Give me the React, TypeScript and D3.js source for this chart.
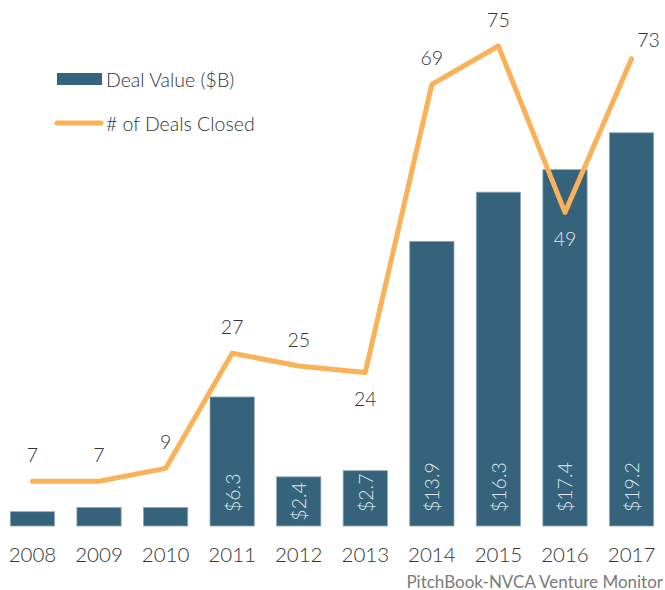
import React from "react";
import * as d3 from "d3";

const years = ["2008", "2009", "2010", "2011", "2012", "2013", "2014", "2015", "2016", "2017"];
const dealValue = [0.7, 0.9, 0.9, 6.3, 2.4, 2.7, 13.9, 16.3, 17.4, 19.2];
const dealValueLabels = ["", "", "", "$6.3", "$2.4", "$2.7", "$13.9", "$16.3", "$17.4", "$19.2"];
const dealsClosed = [7, 7, 9, 27, 25, 24, 69, 75, 49, 73];
// label placement: "above" | "below" | "aboveRight"
const dealsLabelPos = ["above", "above", "above", "above", "above", "below", "above", "above", "below", "aboveRight"];

const W = 665;
const H = 590;
const FONT = "Lato, 'Open Sans', sans-serif";
const BAR = "#35637c";
const LINE = "#fbb157";

export default function App() {
  const x = d3.scaleBand<string>().domain(years).range([-1, 665]).paddingInner(0.335).paddingOuter(0.17);
  const yBar = d3.scaleLinear().domain([0, 25]).range([526, 14]);
  const yLine = d3.scaleLinear().domain([0, 80]).range([526, 14]);
  const cx = (i: number) => (x(years[i]) as number) + x.bandwidth() / 2;
  const line = d3
    .line<number>()
    .x((_, i) => cx(i))
    .y((d) => yLine(d));

  return (
    <svg width={W} height={H} style={{ position: "absolute", left: 0, top: 0, background: "#fff" }} fontFamily={FONT}>
      {dealValue.map((v, i) => (
        <rect
          key={"b" + i}
          x={x(years[i]) as number}
          y={yBar(v)}
          width={x.bandwidth()}
          height={yBar(0) - yBar(v)}
          fill={BAR}
          stroke="#8fa9b9"
          strokeWidth={0.8}
        />
      ))}
      {dealValueLabels.map((t, i) => {
        if (!t) return null;
        const base = yBar(0);
        const top = yBar(dealValue[i]);
        const estLen = t.length * 9.8;
        const fits = base - 14 - estLen > top;
        const transform = fits
          ? `translate(${cx(i)},${base - 14}) rotate(-90)`
          : `translate(${cx(i)},${(base + top) / 2}) rotate(-90)`;
        return (
          <text
            key={"bl" + i}
            transform={transform}
            textAnchor={fits ? "start" : "middle"}
            dominantBaseline="central"
            fontSize={19.5}
            fill="#dfe7ee"
            fontWeight={300}
          >
            {t}
          </text>
        );
      })}
      <path d={line(dealsClosed) || ""} fill="none" stroke={LINE} strokeWidth={5} strokeLinejoin="round" strokeLinecap="round" />
      {dealsClosed.map((v, i) => {
        const pos = dealsLabelPos[i];
        let dx = 0;
        let dy = -27;
        if (pos === "below") dy = 26;
        if (pos === "aboveRight") {
          dx = 17;
          dy = -19;
        }
        const inBar = pos === "below" && yBar(dealValue[i]) < yLine(v);
        return (
          <text
            key={"ll" + i}
            x={cx(i) + dx}
            y={yLine(v) + dy}
            textAnchor="middle"
            dominantBaseline="central"
            fontSize={19.5}
            fontWeight={300}
            fill={inBar ? "#dfe7ee" : "#333"}
          >
            {v}
          </text>
        );
      })}
      {years.map((yr, i) => (
        <text key={"yr" + i} x={cx(i)} y={554} textAnchor="middle" dominantBaseline="central" fontSize={20.5} fontWeight={300} fill="#333">
          {yr}
        </text>
      ))}
      <g>
        <rect x={57} y={73} width={45} height={12} fill={BAR} />
        <text x={106} y={79} dominantBaseline="central" fontSize={19.5} fontWeight={300} fill="#333">
          Deal Value ($B)
        </text>
        <line x1={57} x2={101} y1={123} y2={123} stroke={LINE} strokeWidth={5} strokeLinecap="round" />
        <text x={106} y={123} dominantBaseline="central" fontSize={19.5} fontWeight={300} fill="#333">
          # of Deals Closed
        </text>
      </g>
      <text x={663} y={581} textAnchor="end" dominantBaseline="central" fontSize={17} fontWeight={400} fill="#7a7a7a">
        PitchBook-NVCA Venture Monitor
      </text>
    </svg>
  );
}
